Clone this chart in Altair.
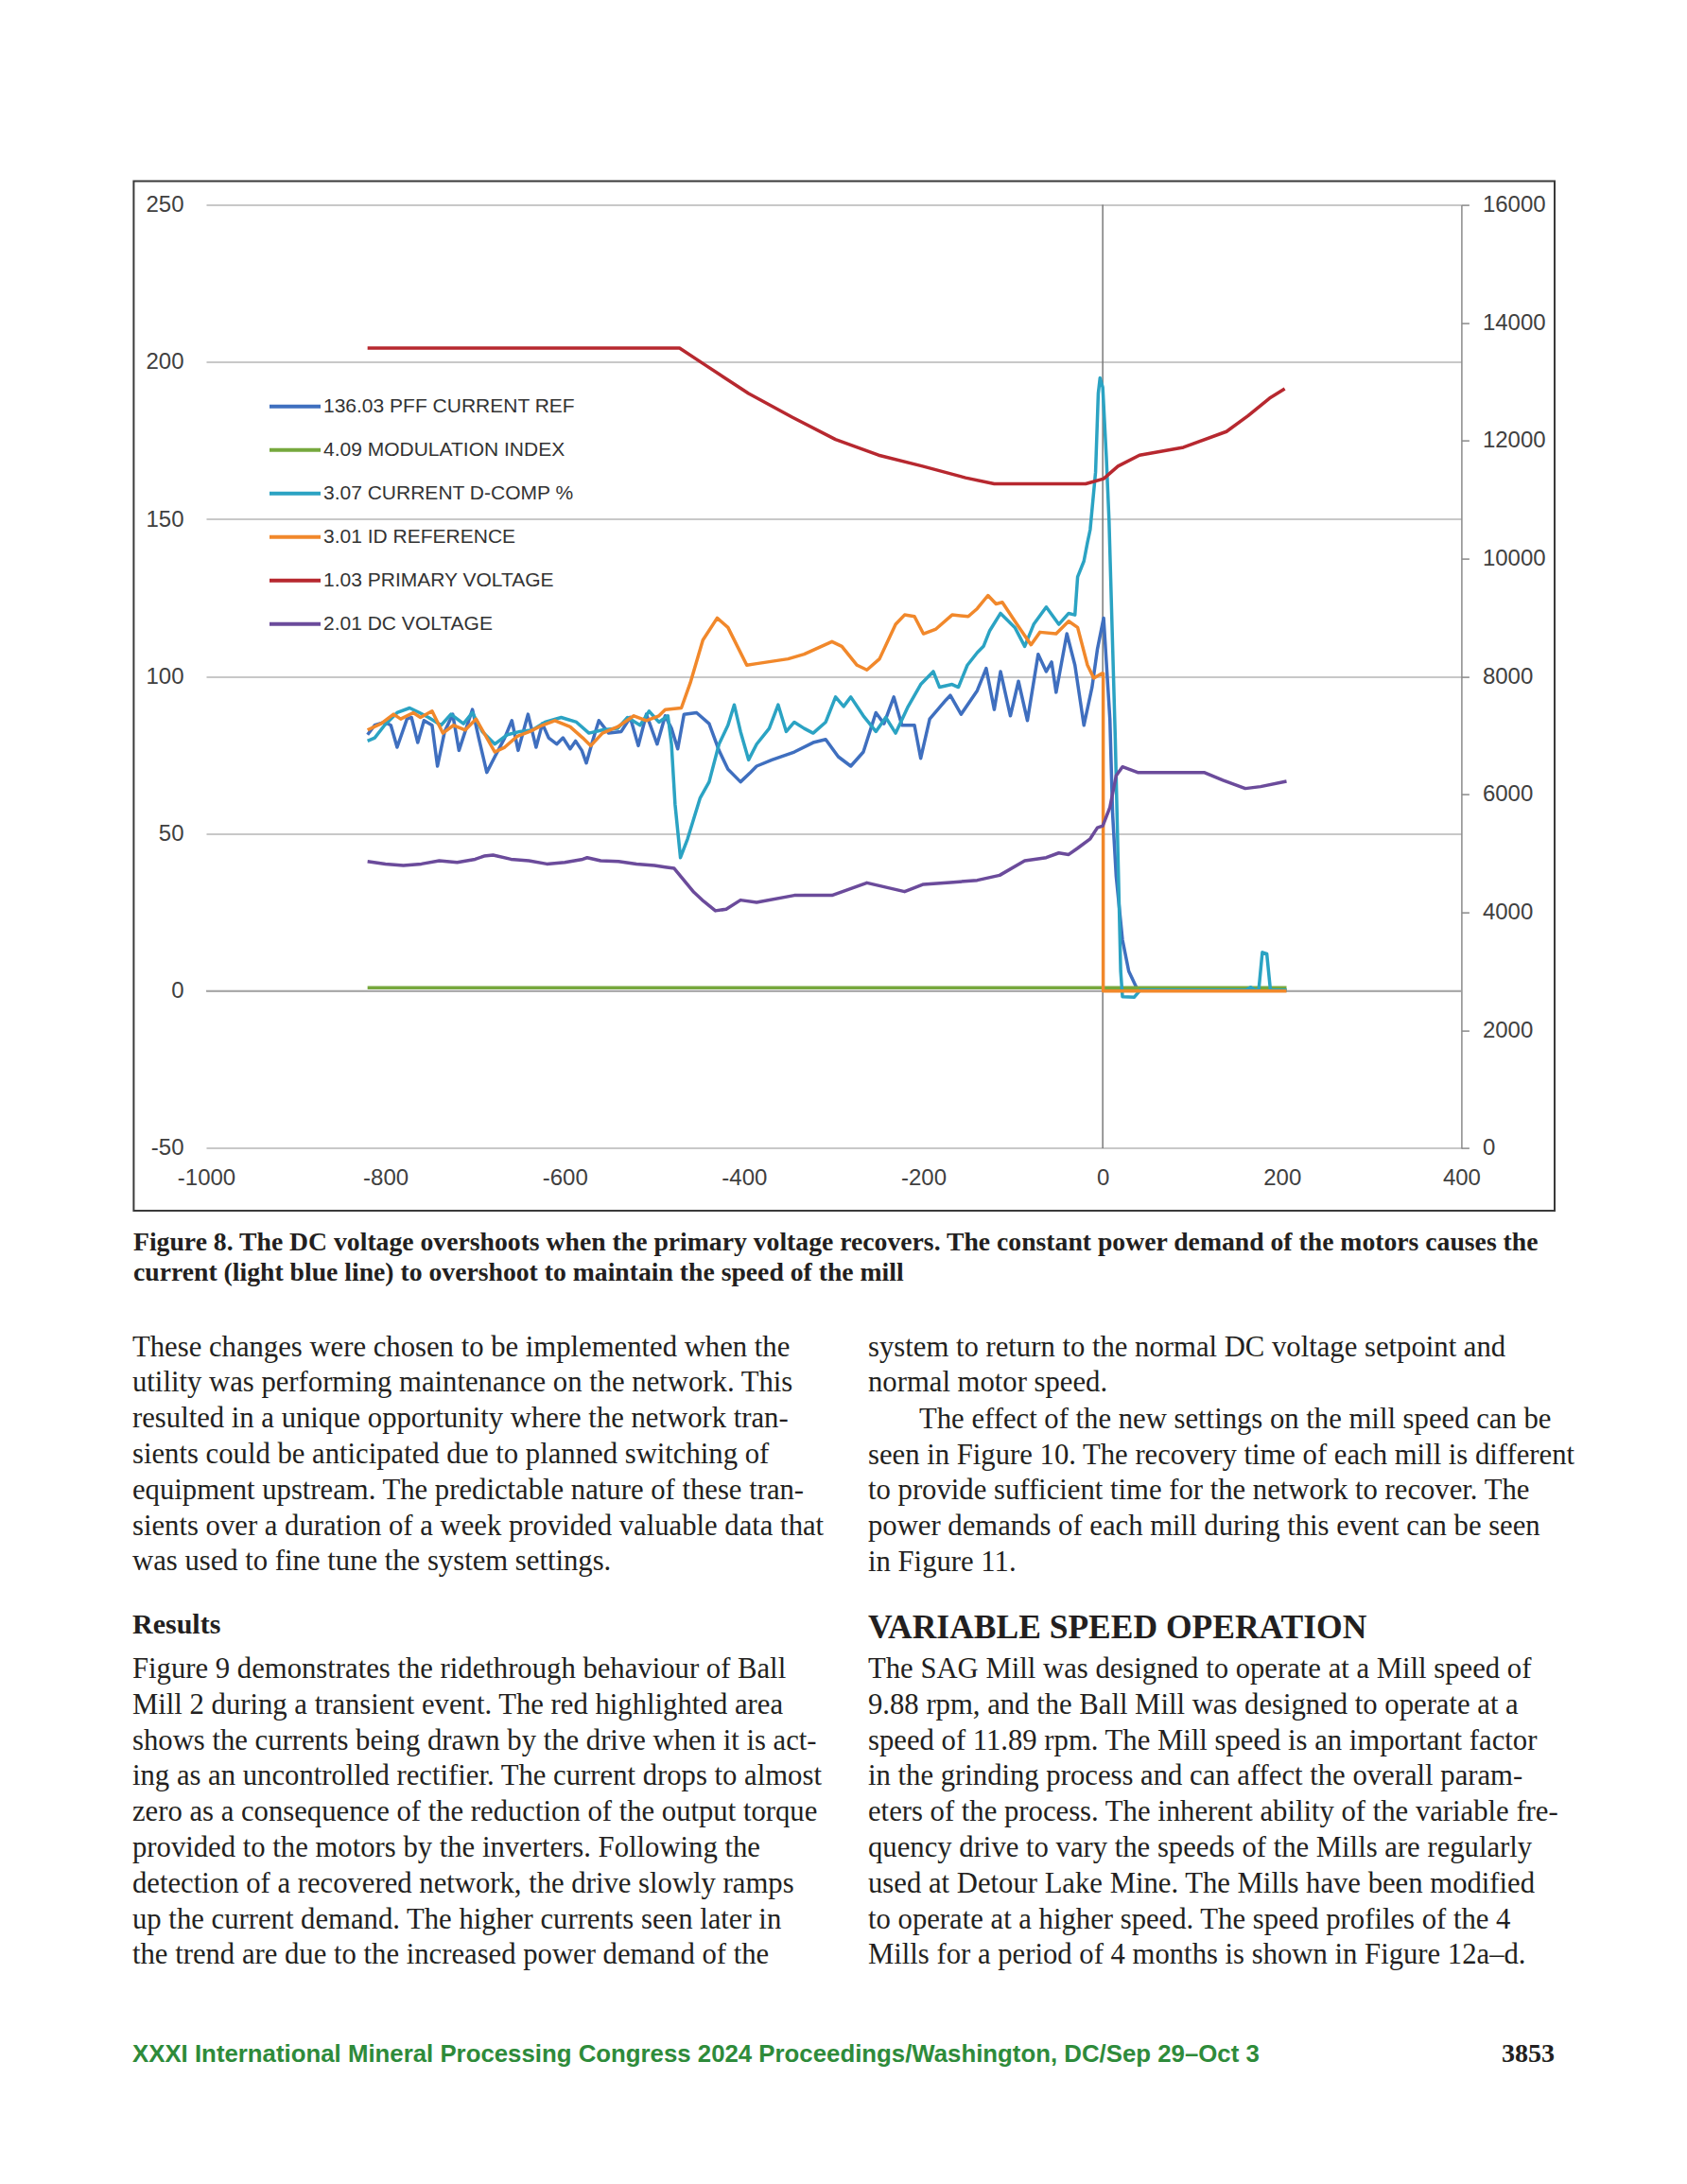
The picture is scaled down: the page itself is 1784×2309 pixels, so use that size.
import altair as alt
import pandas as pd

# ---------------- data ----------------
SERIES = ["136.03 PFF CURRENT REF", "4.09 MODULATION INDEX", "3.07 CURRENT D-COMP %",
          "3.01 ID REFERENCE", "1.03 PRIMARY VOLTAGE", "2.01 DC VOLTAGE"]
COLORS = ["#3F6FBF", "#76A83D", "#2BA3C3", "#F1882B", "#B7282F", "#6B4B9B"]

X_TICKS = [-1000, -800, -600, -400, -200, 0, 200, 400]
Y_LEFT_TICKS = [-50, 0, 50, 100, 150, 200, 250]
Y_RIGHT_TICKS = [0, 2000, 4000, 6000, 8000, 10000, 12000, 14000, 16000]

pff_t = [-820, -812, -801, -794, -787, -776, -771, -764, -757, -748, -742, -734, -725, -718, -710,
         -703, -696, -687, -678, -667, -659, -652, -641, -632, -625, -618, -609, -602, -594, -588,
         -581, -576, -569, -562, -551, -537, -527, -518, -509, -497, -488, -481, -474, -467, -453,
         -439, -428, -418, -404, -393, -386, -369, -344, -323, -309, -295, -281, -267, -253, -244,
         -233, -224, -210, -203, -193, -175, -170, -158, -140, -130, -121, -114, -103, -94, -84,
         -72, -63, -57, -52, -40, -31, -21, -12, -6, 1, 8, 11, 15, 22, 29, 39, 50, 205]
pff_v = [81.5, 84.5, 85.5, 84.5, 77.5, 86.5, 87, 79, 86, 84.5, 71.5, 82.5, 88, 76.5, 83.5,
         89.5, 80.5, 69.5, 74.5, 80.5, 86, 76.5, 88, 77.5, 85, 80.5, 78.5, 80.5, 77, 79.5,
         76.5, 72.5, 79.5, 86, 82, 82.5, 87, 78, 88, 78.5, 87.5, 83.5, 77, 88, 88.5,
         85, 76.5, 70.5, 66.5, 69.5, 71.5, 73.5, 76, 79, 80, 74.5, 71.5, 76, 88.5, 85,
         93.5, 84.5, 84.5, 74, 86.5, 92.5, 94, 88, 95.5, 102.6, 89.5, 101.6, 87.5, 98.5, 86,
         107.1, 101.6, 104.6, 95, 113.6, 103.6, 84.5, 96.5, 108.6, 118.6, 86.5, 56.4, 36.4, 16.3,
         6.3, 0.3, 0.3, 0.3]

mod_t = [-820, 205]
mod_v = [1.0, 1.0]

dcomp_t = [-820, -812, -801, -787, -773, -762, -752, -738, -727, -713, -703, -692, -678, -664, -650,
           -636, -622, -604, -587, -573, -558, -541, -530, -516, -506, -495, -485, -481, -477, -471,
           -463, -449, -439, -428, -418, -411, -404, -395, -386, -372, -362, -353, -344, -333, -323,
           -309, -298, -289, -281, -267, -253, -242, -231, -217, -203, -189, -182, -168, -161, -151,
           -140, -133, -126, -114, -98, -87, -77, -63, -49, -38, -31, -28, -21, -17, -14,
           -8, -5, -3, 0, 4, 7, 14, 20, 22, 35, 42, 160, 165, 170, 174, 178, 183, 187, 205]
dcomp_v = [79.5, 80.5, 84.5, 88.5, 90, 88.5, 87, 84.5, 88, 85, 88.5, 82.5, 78.5, 81.5, 82.5,
           83, 85.5, 87, 85.5, 82, 83, 83.5, 87, 84.5, 89, 85.5, 87.5, 78.5, 59.4, 42.4,
           48.4, 61.4, 66.5, 78.5, 84.5, 91, 82.5, 73.5, 78.5, 83.5, 91, 82.5, 85.5, 83.5, 82,
           85.5, 93.5, 90.5, 93.5, 87.5, 82.5, 87, 82, 90.5, 97.5, 101.6, 96.6, 97.5, 96.6, 103.6,
           107.6, 109.6, 114.6, 120.1, 115.6, 109.6, 116.6, 122.1, 116.6, 120.1, 119.6, 131.7, 136.7, 142.7, 146.7,
           165, 190, 195, 192, 170, 150, 80, 6.3, -1.8, -2, 0.3, 0.3, 1.2, 0.3, 0.3, 12.3, 11.8, 0.3, 0.3]

idref_t = [-820, -805, -791, -783, -769, -761, -748, -736, -724, -711, -699, -689, -678, -667, -653,
           -639, -625, -611, -594, -580, -571, -558, -541, -523, -509, -495, -488, -470, -460, -446,
           -430, -418, -397, -386, -351, -333, -302, -291, -274, -263, -249, -231, -221, -210, -200,
           -186, -168, -150, -140, -128, -119, -112, -98, -80, -70, -52, -38, -28, -17, -10,
           -1, 0.5, 0.5, 205]
idref_v = [83, 85, 88, 86.5, 88.5, 87, 89, 82, 84.5, 83, 86.5, 81.5, 76, 77.5, 81,
           82.5, 84.5, 86, 84, 80.5, 78, 82, 84, 87.5, 86, 87.5, 89.5, 90, 98, 111.6,
           118.6, 115.6, 103.6, 104.1, 105.6, 107.1, 111.1, 109.6, 103.6, 102.1, 105.6, 116.6, 119.6, 119.1, 113.6,
           115.1, 119.6, 119.1, 121.6, 125.8, 123.1, 123.6, 117.6, 110.1, 114.1, 113.6, 117.6, 115.6, 103.6, 99.5,
           101, 101, 0, 0]

prim_t = [-820, -472, -443, -395, -346, -298, -250, -201, -153, -121, -19, 1, 17, 41, 90, 138, 162, 186, 203]
prim_v = [13570, 13570, 13280, 12800, 12395, 12021, 11755, 11568, 11371, 11269, 11269, 11355,
          11568, 11755, 11888, 12155, 12421, 12720, 12880]

dcv_t = [-820, -800, -780, -760, -740, -720, -700, -690, -680, -660, -640, -620, -600, -580, -575,
         -560, -540, -520, -500, -488, -478, -456, -445, -432, -420, -404, -386, -344, -302, -263,
         -221, -200, -170, -140, -115, -87, -63, -49, -38, -28, -14, -6, 0, 8, 15, 22, 39, 113,
         134, 159, 176, 205]
dcv_v = [4864, 4821, 4795, 4821, 4875, 4848, 4901, 4955, 4971, 4901, 4875, 4821, 4848, 4901, 4928,
         4875, 4864, 4821, 4795, 4768, 4747, 4341, 4187, 4027, 4053, 4208, 4171, 4288, 4288, 4501,
         4352, 4475, 4507, 4544, 4629, 4875, 4928, 5008, 4981, 5088, 5248, 5435, 5467, 5781, 6320,
         6469, 6373, 6373, 6240, 6101, 6133, 6224]

CAPTION = ["Figure 8. The DC voltage overshoots when the primary voltage recovers. The constant power demand of the motors causes the",
           "current (light blue line) to overshoot to maintain the speed of the mill"]
LEFT_P1 = ["These changes were chosen to be implemented when the",
           "utility was performing maintenance on the network. This",
           "resulted in a unique opportunity where the network tran-",
           "sients could be anticipated due to planned switching of",
           "equipment upstream. The predictable nature of these tran-",
           "sients over a duration of a week provided valuable data that",
           "was used to fine tune the system settings."]
LEFT_HEAD = "Results"
LEFT_P2 = ["Figure 9 demonstrates the ridethrough behaviour of Ball",
           "Mill 2 during a transient event. The red highlighted area",
           "shows the currents being drawn by the drive when it is act-",
           "ing as an uncontrolled rectifier. The current drops to almost",
           "zero as a consequence of the reduction of the output torque",
           "provided to the motors by the inverters. Following the",
           "detection of a recovered network, the drive slowly ramps",
           "up the current demand. The higher currents seen later in",
           "the trend are due to the increased power demand of the"]
RIGHT_P1 = ["system to return to the normal DC voltage setpoint and",
            "normal motor speed."]
RIGHT_P2_FIRST = "The effect of the new settings on the mill speed can be"
RIGHT_P2 = ["seen in Figure 10. The recovery time of each mill is different",
            "to provide sufficient time for the network to recover. The",
            "power demands of each mill during this event can be seen",
            "in Figure 11."]
RIGHT_HEAD = "VARIABLE SPEED OPERATION"
RIGHT_P3 = ["The SAG Mill was designed to operate at a Mill speed of",
            "9.88 rpm, and the Ball Mill was designed to operate at a",
            "speed of 11.89 rpm. The Mill speed is an important factor",
            "in the grinding process and can affect the overall param-",
            "eters of the process. The inherent ability of the variable fre-",
            "quency drive to vary the speeds of the Mills are regularly",
            "used at Detour Lake Mine. The Mills have been modified",
            "to operate at a higher speed. The speed profiles of the 4",
            "Mills for a period of 4 months is shown in Figure 12a\u2013d."]
FOOTER = "XXXI International Mineral Processing Congress 2024 Proceedings/Washington, DC/Sep 29\u2013Oct 3"
PAGE_NO = "3853"


def frame(name, t, v):
    return pd.DataFrame({"series": name, "t": t, "v": v, "i": list(range(len(t)))})


# ---------------- layout constants ----------------
W, H = 1327.4, 997.3
CHART_FONT = "Liberation Sans, Arial, sans-serif"
SERIF = "Liberation Serif, Times New Roman, serif"
TEXT_COLOR = "#231f20"
BODY = 30.7

x_enc = alt.X("t:Q", scale=alt.Scale(domain=[-1000, 400], nice=False, zero=False),
              axis=alt.Axis(values=X_TICKS, grid=False, domain=False, ticks=False,
                            labelExpr="'' + datum.value", labelPadding=20, title=None,
                            labelFlush=False))
y_left = alt.Y("v:Q", scale=alt.Scale(domain=[-50, 250], nice=False, zero=False),
               axis=alt.Axis(values=Y_LEFT_TICKS, grid=True, gridColor="#c8c8c8", gridWidth=2,
                             domain=False, ticks=False, labelExpr="'' + datum.value",
                             labelPadding=24, title=None, orient="left"))
y_right = alt.Y("v:Q", scale=alt.Scale(domain=[0, 16000], nice=False, zero=False),
                axis=alt.Axis(values=Y_RIGHT_TICKS, orient="right", grid=False, domain=True,
                              domainColor="#8a8a8a", domainWidth=1.5, ticks=True, tickSize=8,
                              tickColor="#8a8a8a", tickWidth=1.5, labelPadding=14, title=None,
                              labelExpr="'' + datum.value"))
color_enc = alt.Color("series:N", scale=alt.Scale(domain=SERIES, range=COLORS),
                      legend=alt.Legend(orient="none", legendX=65, legendY=190.4, title=None,
                                        symbolType="stroke", symbolSize=2916,
                                        symbolStrokeWidth=4, symbolOffset=0,
                                        labelFont=CHART_FONT, labelFontSize=21,
                                        labelColor="#333333", labelOffset=1,
                                        labelLimit=600, rowPadding=0, clipHeight=45.3,
                                        padding=0))


def line(df, y):
    return alt.Chart(df).mark_line(strokeWidth=3.5, strokeJoin="round").encode(
        x=x_enc, y=y, color=color_enc, order=alt.Order("i:Q"))


zero_x = alt.Chart(pd.DataFrame({"t": [0]})).mark_rule(color="#7a7a7a", strokeWidth=1.5).encode(x=x_enc)
zero_y = alt.Chart(pd.DataFrame({"v": [0]})).mark_rule(color="#a6a6a6", strokeWidth=2).encode(y=y_left)

left_group = alt.layer(
    zero_x, zero_y,
    line(frame(SERIES[0], pff_t, pff_v), y_left),
    line(frame(SERIES[1], mod_t, mod_v), y_left),
    line(frame(SERIES[2], dcomp_t, dcomp_v), y_left),
    line(frame(SERIES[3], idref_t, idref_v), y_left),
)
right_group = alt.layer(
    line(frame(SERIES[4], prim_t, prim_v), y_right),
    line(frame(SERIES[5], dcv_t, dcv_v), y_right),
)

one = pd.DataFrame({"a": [0]})
border = alt.Chart(one).mark_rect(fillOpacity=0, stroke="#3a3a3a", strokeWidth=2).encode(
    x=alt.value(-76.6), x2=alt.value(1426), y=alt.value(-25.1), y2=alt.value(1063.4))


def txt(lines, x, y, size, weight="normal", font=SERIF, color=TEXT_COLOR, align="left",
        lh=37.8):
    return alt.Chart(one).mark_text(text=lines, align=align, baseline="alphabetic", font=font,
                                    fontSize=size, fontWeight=weight, color=color,
                                    lineHeight=lh).encode(
        x=alt.value(x), y=alt.value(y))


texts = [
    txt(CAPTION, -77, 1105, 27.7, weight="bold", lh=32.4),
    txt(LEFT_P1, -78, 1217, BODY),
    txt(LEFT_HEAD, -78, 1510, 30, weight="bold"),
    txt(LEFT_P2, -78, 1557.5, BODY),
    txt(RIGHT_P1, 700, 1217, BODY),
    txt(RIGHT_P2_FIRST, 754, 1293, BODY),
    txt(RIGHT_P2, 700, 1331, BODY),
    txt(RIGHT_HEAD, 700, 1515, 35.5, weight="bold"),
    txt(RIGHT_P3, 700, 1557.5, BODY),
    txt(FOOTER, -78, 1963, 25.8, weight="bold", font="Liberation Sans, sans-serif",
        color="#2E8B3A"),
    txt(PAGE_NO, 1426, 1963, 28, weight="bold", align="right"),
]

chart = alt.layer(left_group, right_group, border, *texts).resolve_scale(
    y="independent"
).properties(
    width=W, height=H,
    padding={"left": 210, "top": 208.6, "right": 230.6, "bottom": 1087.1},
    autosize=alt.AutoSizeParams(type="none"),
    background="white",
).configure_view(stroke=None).configure_axis(
    labelFont=CHART_FONT, labelFontSize=24, labelColor="#404040"
)

chart.save("out.html", embed_options={"renderer": "svg", "actions": False})
